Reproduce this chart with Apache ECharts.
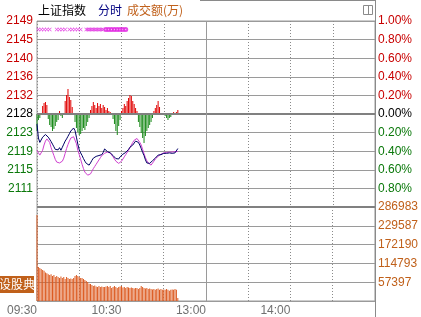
<!DOCTYPE html>
<html><head><meta charset="utf-8">
<script src="https://cdn.jsdelivr.net/npm/echarts@6/dist/echarts.min.js"></script>
<style>html,body{margin:0;padding:0;background:#fff}#c{width:421px;height:317px}</style>
</head><body><div id="c"></div>
<script>
// ---- data ----
const BASE = 2128.1; // previous close
const priceTicks = ['2149','2145','2140','2136','2132','2128','2123','2119','2115','2111',''];
const pctTicks = ['1.00%','0.80%','0.60%','0.40%','0.20%','0.00%','0.20%','0.40%','0.60%','0.80%',''];
const volTicks = ['','57397','114793','172190','229587','286983'];
const timeTickMinutes = [0, 60, 120, 180];
const timeTicks = ['09:30', '10:30', '13:00', '14:00'];

const indexLine = [2125.8,2122.6,2121.6,2122.0,2122.8,2123.2,2123.4,2123.1,2122.8,2122.5,
2121.8,2121.2,2120.6,2120.0,2120.3,2119.9,2120.4,2119.8,2120.5,2121.2,
2121.9,2122.4,2123.0,2123.6,2124.2,2124.4,2124.9,2124.3,2122.8,2121.2,
2119.9,2119.2,2118.6,2117.9,2117.3,2116.8,2116.5,2116.4,2116.9,2117.5,
2118.0,2118.3,2118.4,2118.3,2118.6,2118.5,2118.8,2119.3,2120.1,2119.7,
2119.5,2119.3,2119.2,2118.9,2118.6,2118.2,2117.9,2117.6,2117.8,2118.3,
2118.7,2118.9,2119.1,2119.3,2119.6,2120.0,2120.5,2120.8,2121.0,2121.4,
2121.9,2122.1,2121.6,2121.0,2120.2,2119.3,2118.6,2117.6,2116.9,2116.5,
2116.8,2117.2,2117.4,2117.6,2118.0,2118.3,2118.7,2118.8,2118.8,2119.0,
2119.1,2119.2,2119.1,2119.0,2119.2,2119.3,2119.1,2119.0,2119.2,2119.1,2120.2];

const leadLine = [2119.8,2119.2,2118.7,2118.6,2119.8,2121.0,2121.9,2122.4,2122.5,2121.6,
2120.4,2119.5,2118.6,2117.7,2117.1,2116.8,2116.9,2117.1,2117.3,2118.0,
2119.1,2120.2,2121.1,2121.9,2122.6,2123.0,2122.9,2122.6,2121.3,2119.8,
2118.8,2117.7,2116.6,2115.6,2114.8,2114.4,2114.1,2114.1,2114.4,2115.0,
2115.6,2116.1,2116.6,2117.1,2117.6,2118.1,2118.6,2118.8,2119.1,2119.3,
2119.4,2119.4,2119.2,2118.8,2118.3,2117.8,2117.3,2117.0,2116.8,2116.9,
2117.3,2117.8,2118.3,2118.8,2119.2,2119.8,2120.4,2121.0,2121.6,2122.1,
2122.4,2122.5,2122.2,2121.6,2121.0,2120.0,2119.0,2118.1,2117.4,2116.9,
2116.5,2116.4,2116.8,2117.3,2117.8,2118.1,2118.4,2118.7,2118.9,2119.1,
2119.2,2119.3,2119.3,2119.4,2119.4,2119.3,2119.4,2119.4,2119.5,2119.4,2119.5];

const power = [-17,-6,-4,0,8,11,12,9,-5,-11,
-13,-17,-15,-12,-8,-6,3,-2,-4,0,
13,19,25,17,14,7,0,-8,-14,-18,
-21,-20,-17,-14,-16,-12,-8,-4,4,8,
12,9,6,11,8,10,6,9,7,4,
6,3,2,0,-5,-10,-17,-21,-12,-6,
3,6,10,8,13,16,19,18,13,10,
6,3,-8,-13,-19,-24,-29,-22,-17,-14,
-11,-8,-4,3,6,9,13,7,0,0,
0,-2,-4,-6,-4,-3,0,2,1,2,4];

const volume = [262600,104000,101000,98000,95000,92000,87000,85000,82000,79000,
82000,76000,79000,73000,76000,73000,70000,75000,70000,73000,
67000,73000,70000,67000,69000,67000,70000,76000,79000,76000,
73000,70000,70000,67000,64000,61000,58000,53000,52000,49000,
46000,47000,44000,43000,46000,43000,44000,43000,43000,44000,
46000,43000,46000,40000,43000,46000,43000,40000,43000,44000,
46000,41000,43000,40000,43000,41000,40000,41000,40000,38000,
40000,40000,37000,40000,46000,43000,40000,38000,40000,37000,
38000,37000,35000,37000,34000,37000,38000,34000,37000,34000,
35000,34000,37000,34000,31000,34000,35000,34000,37000,34000,9000];

const crossMinutes = [1,3,5,7,9,14,16,18,20,23,25,27,29,31,35,36,37,38,39,40,41,42,43,44,45,46,47];
const circleMinutes = [49,51,53,55,57,59,61,63];

// ---- build ----
const toPct = p => (p / BASE - 1) * 100;
const idxData = indexLine.map((p, i) => [i, toPct(p)]);
const leadData = leadLine.map((p, i) => [i, toPct(p)]);
const upData = power.map((v, i) => [i, v > 0 ? v : 0]);
const downData = power.map((v, i) => [i, v < 0 ? v : 0]);
const volData = volume.map((v, i) => [i, v]);
const MARK_ROW = 84.5;
const crossData = crossMinutes.map(m => [m, MARK_ROW]);
const circleData = circleMinutes.map(m => [m, MARK_ROW]);

const RED = '#c80000', GREEN = '#0a780a', BROWN = '#c0601a', GRID = '#9a9a9a';
const tickIdx = v => Math.round((1 - v) / 0.2);
const sideColor = v => (Math.abs(v) < 1e-6 ? '#000' : (v > 0 ? RED : GREEN));
const FONT = 'Liberation Sans, Arial, sans-serif';
const CJK = 'Noto Sans CJK SC';

const chart = echarts.init(document.getElementById('c'), null, {renderer: 'canvas'});
const dotted = {show: true, lineStyle: {color: '#8a8a8a', type: [1, 2], width: 1}};
const vline120 = {
  silent: true, symbol: 'none', label: {show: false},
  lineStyle: {color: GRID, type: 'solid', width: 1},
  data: [{xAxis: 120}]
};

chart.setOption({
  animation: false,
  backgroundColor: '#fff',
  grid: [
    {left: 37, top: 21, width: 338, height: 186, show: true, borderColor: GRID, borderWidth: 1},
    {left: 37, top: 207, width: 338, height: 94, show: true, borderColor: GRID, borderWidth: 1}
  ],
  xAxis: [
    {gridIndex: 0, type: 'value', min: 0, max: 240, interval: 30,
      axisLine: {show: false}, axisTick: {show: false}, axisLabel: {show: false}, splitLine: dotted},
    {gridIndex: 1, type: 'value', min: 0, max: 240, interval: 30,
      axisLine: {show: false}, axisTick: {show: false}, splitLine: dotted,
      axisLabel: {show: true, align: 'right', margin: 4, fontSize: 12, fontFamily: FONT, color: '#707070',
        showMinLabel: true, showMaxLabel: true,
        formatter: v => { const k = timeTickMinutes.indexOf(v); return k >= 0 ? timeTicks[k] : ''; }}}
  ],
  yAxis: [
    {gridIndex: 0, type: 'value', position: 'left', min: -1, max: 1, interval: 0.2,
      axisLine: {show: false}, axisTick: {show: false},
      splitLine: {show: true, lineStyle: {color: GRID, width: 1}},
      axisLabel: {margin: 4, fontSize: 12, fontFamily: FONT,
        formatter: v => priceTicks[tickIdx(v)], color: v => sideColor(v)}},
    {gridIndex: 0, type: 'value', position: 'right', min: -1, max: 1, interval: 0.2,
      axisLine: {show: false}, axisTick: {show: false}, splitLine: {show: false},
      axisLabel: {margin: 3, fontSize: 12, fontFamily: FONT,
        formatter: v => pctTicks[tickIdx(v)], color: v => sideColor(v)}},
    {gridIndex: 0, type: 'value', min: -93, max: 93, show: false},
    {gridIndex: 1, type: 'value', position: 'right', min: 0, max: 286985, interval: 57397,
      axisLine: {show: false}, axisTick: {show: false},
      splitLine: {show: true, lineStyle: {color: GRID, width: 1}},
      axisLabel: {margin: 3, fontSize: 12, fontFamily: FONT, color: BROWN,
        showMaxLabel: true, formatter: v => volTicks[Math.round(v / 57397)]}}
  ],
  series: [
    {type: 'bar', xAxisIndex: 0, yAxisIndex: 2, data: upData, barWidth: 1, itemStyle: {color: '#e00000'},
      silent: true, barGap: '-100%',
      markLine: {silent: true, symbol: 'none', label: {show: false},
        data: [{yAxis: 0, lineStyle: {color: '#808080', width: 2, type: 'solid'}}, {xAxis: 120, lineStyle: {color: GRID, width: 1, type: 'solid'}}]}},
    {type: 'bar', xAxisIndex: 0, yAxisIndex: 2, data: downData, barWidth: 1, itemStyle: {color: '#1a8a1a'},
      silent: true, barGap: '-100%'},
    {type: 'line', xAxisIndex: 0, yAxisIndex: 0, data: leadData, showSymbol: false, symbol: 'none',
      lineStyle: {color: '#d040d0', width: 1}, silent: true},
    {type: 'line', xAxisIndex: 0, yAxisIndex: 0, data: idxData, showSymbol: false, symbol: 'none',
      lineStyle: {color: '#000066', width: 1}, silent: true},
    {type: 'scatter', xAxisIndex: 0, yAxisIndex: 2, data: crossData,
      symbol: 'path://M0,1L1,0L5,4L9,0L10,1L6,5L10,9L9,10L5,6L1,10L0,9L4,5Z', symbolSize: 4,
      itemStyle: {color: '#e020e0'}, silent: true},
    {type: 'scatter', xAxisIndex: 0, yAxisIndex: 2, data: circleData, symbol: 'emptyCircle', symbolSize: 3,
      itemStyle: {color: '#e020e0', borderColor: '#e020e0', borderWidth: 1}, silent: true},
    {type: 'bar', xAxisIndex: 1, yAxisIndex: 3, data: volData, barWidth: 1, itemStyle: {color: '#dc5a20'},
      silent: true,
      markLine: {silent: true, symbol: 'none', label: {show: false},
        data: [{yAxis: 286985, lineStyle: {color: '#808080', width: 2, type: 'solid'}}, {xAxis: 120, lineStyle: {color: GRID, width: 1, type: 'solid'}}]}}
  ],
  graphic: [
    {type: 'text', left: 38, top: 4, style: {text: '上证指数', font: '12px "Noto Sans CJK SC"', fill: '#000'}},
    {type: 'text', left: 98, top: 4, style: {text: '分时', font: '12px "Noto Sans CJK SC"', fill: '#000080'}},
    {type: 'text', left: 127, top: 4, style: {text: '成交额(万)', font: '12px "Noto Sans CJK SC"', fill: BROWN}},
    {type: 'rect', shape: {x: 363.5, y: 5.5, width: 9, height: 9}, style: {fill: 'none', stroke: '#8a8a8a', lineWidth: 1}},
    {type: 'line', shape: {x1: 368.5, y1: 5.5, x2: 368.5, y2: 14.5}, style: {stroke: '#8a8a8a', lineWidth: 1}},
    {type: 'line', shape: {x1: 375.5, y1: 0, x2: 375.5, y2: 317}, style: {stroke: '#8a8a8a', lineWidth: 1}},
    {type: 'line', shape: {x1: 200, y1: 0.5, x2: 375.5, y2: 0.5}, style: {stroke: '#8a8a8a', lineWidth: 1}},
    {type: 'rect', shape: {x: 0, y: 276, width: 34, height: 17}, style: {fill: BROWN}},
    {type: 'text', left: -1, top: 278, style: {text: '设股典', font: '12px "Noto Sans CJK SC"', fill: '#fff'}}
  ]
});
</script>
</body></html>
